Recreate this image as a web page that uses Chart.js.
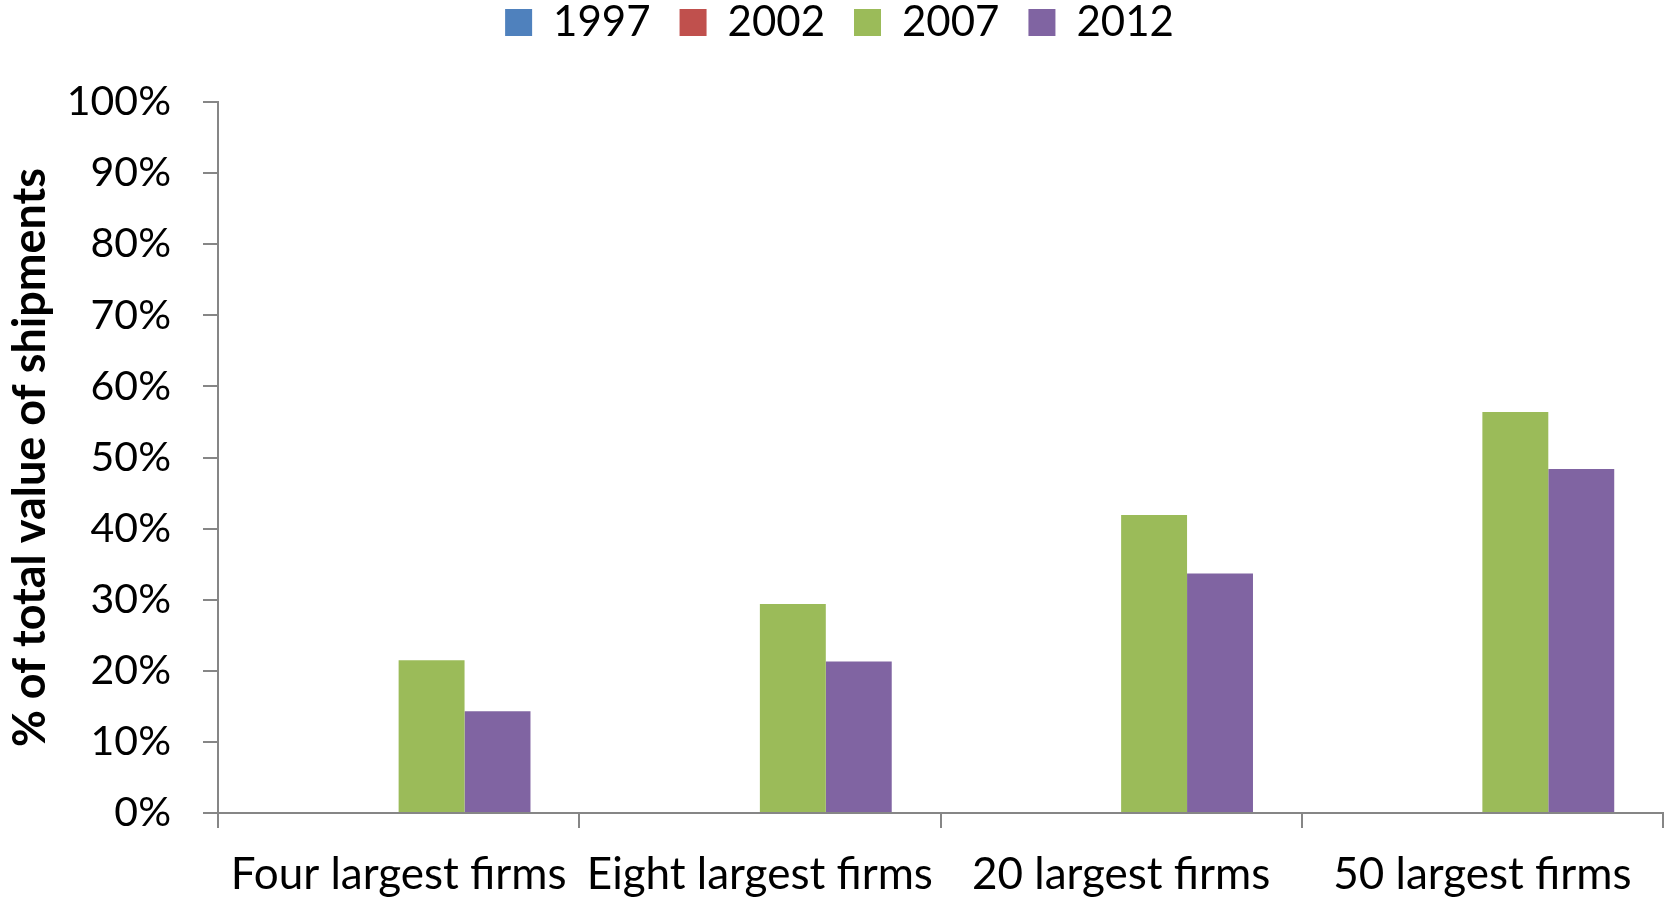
<!DOCTYPE html>
<html><head><meta charset="utf-8">
<script src="https://cdn.jsdelivr.net/npm/chart.js@4"></script>
<style>html,body{margin:0;padding:0;background:#fff}#wrap{width:1665px;height:900px;position:relative}</style>
</head><body><div id="wrap"><canvas id="c"></canvas></div>
<script>
const categories = ['Four largest firms', 'Eight largest firms', '20 largest firms', '50 largest firms'];
const seriesNames = ['1997', '2002', '2007', '2012'];
const values1997 = [null, null, null, null];
const values2002 = [null, null, null, null];
const values2007 = [21.5, 29.4, 41.9, 56.4];
const values2012 = [14.3, 21.3, 33.7, 48.4];
const yTickValues = [0, 10, 20, 30, 40, 50, 60, 70, 80, 90, 100];
const yTitle = '% of total value of shipments';

const colors = ['#4F81BD', '#C0504D', '#9BBB59', '#8064A2'];
const allValues = [values1997, values2002, values2007, values2012];
const FONT = 'Lato, "Open Sans", sans-serif';
Chart.defaults.color = '#000';
Chart.defaults.font.family = FONT;

const LEGEND_PAD = 29;
const LEGEND_FONT = 42;
const legendPlace = {
  id: 'legendPlace',
  afterLayout(chart) {
    const l = chart.legend;
    if (!l) return;
    const h = l.height;
    const w = l.width;
    l.top = 22.5 - LEGEND_PAD - LEGEND_FONT / 2;
    l.bottom = l.top + h;
    l.left = 8;
    l.right = l.left + w;
  }
};

new Chart(document.getElementById('c'), {
  type: 'bar',
  data: {
    labels: categories,
    datasets: seriesNames.map((n, i) => ({
      label: n,
      data: allValues[i],
      backgroundColor: colors[i],
      borderWidth: 0,
      categoryPercentage: 0.73,
      barPercentage: 1.0
    }))
  },
  plugins: [legendPlace],
  options: {
    responsive: true,
    maintainAspectRatio: false,
    animation: false,
    layout: { padding: { top: -30, right: 2, bottom: 0, left: 0 } },
    plugins: {
      legend: {
        position: 'top',
        labels: { boxWidth: 27, boxHeight: 27, padding: LEGEND_PAD, font: { size: LEGEND_FONT, family: FONT }, color: '#000' }
      },
      tooltip: { enabled: false }
    },
    scales: {
      x: {
        grid: { display: true, drawOnChartArea: false, drawTicks: true, tickLength: 15, color: '#868686', lineWidth: 2, offset: true },
        border: { color: '#868686', width: 2 },
        ticks: { font: { size: 44, family: FONT }, color: '#000', padding: 20, maxRotation: 0, autoSkip: false },
        afterFit: s => { s.height = 87; }
      },
      y: {
        min: 0, max: 100,
        afterBuildTicks: s => { s.ticks = yTickValues.map(v => ({ value: v })); },
        grid: { display: true, drawOnChartArea: false, drawTicks: true, tickLength: 15, color: '#868686', lineWidth: 2 },
        border: { color: '#868686', width: 2 },
        ticks: { font: { size: 41, family: FONT }, color: '#000', padding: 32, callback: v => v + '%' },
        title: { display: true, text: yTitle, font: { size: 45, weight: 'bold', family: FONT }, color: '#000', padding: { top: 3, bottom: 0 } },
        afterFit: s => { s.width = 218; s.paddingTop = 102; }
      }
    }
  }
});
</script>
</body></html>
